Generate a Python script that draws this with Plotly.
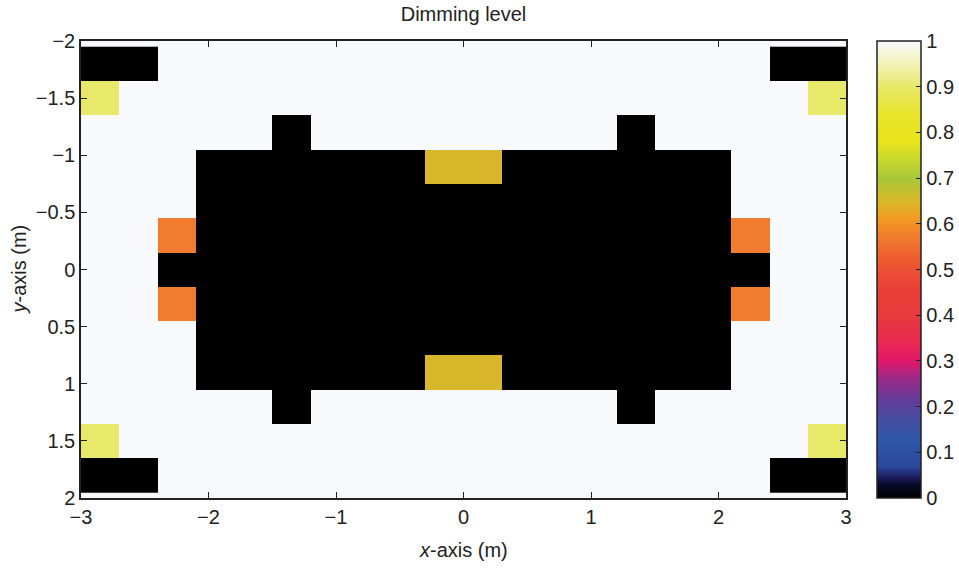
import plotly.graph_objects as go

# ---- data ----
x_centers = [-2.85, -2.55, -2.25, -1.95, -1.65, -1.35, -1.05, -0.75, -0.45, -0.15,
             0.15, 0.45, 0.75, 1.05, 1.35, 1.65, 1.95, 2.25, 2.55, 2.85]
y_centers = [-1.8, -1.5, -1.2, -0.9, -0.6, -0.3, 0.0, 0.3, 0.6, 0.9, 1.2, 1.5, 1.8]

W = 1.0    # full level
O = 0.57   # orange
G = 0.65   # gold
P = 0.9    # pale yellow

row_corner_black = [0, 0, W, W, W, W, W, W, W, W, W, W, W, W, W, W, W, W, 0, 0]
row_corner_pale  = [P, W, W, W, W, W, W, W, W, W, W, W, W, W, W, W, W, W, W, P]
row_bumps        = [W, W, W, W, W, 0, W, W, W, W, W, W, W, W, 0, W, W, W, W, W]
row_gold         = [W, W, W, 0, 0, 0, 0, 0, 0, G, G, 0, 0, 0, 0, 0, 0, W, W, W]
row_block        = [W, W, W, 0, 0, 0, 0, 0, 0, 0, 0, 0, 0, 0, 0, 0, 0, W, W, W]
row_orange       = [W, W, O, 0, 0, 0, 0, 0, 0, 0, 0, 0, 0, 0, 0, 0, 0, O, W, W]
row_center       = [W, W, 0, 0, 0, 0, 0, 0, 0, 0, 0, 0, 0, 0, 0, 0, 0, 0, W, W]

dimming = [row_corner_black, row_corner_pale, row_bumps, row_gold, row_block,
           row_orange, row_center, row_orange, row_block, row_gold, row_bumps,
           row_corner_pale, row_corner_black]

x_ticks = [-3, -2, -1, 0, 1, 2, 3]
x_tick_text = ["\u22123", "\u22122", "\u22121", "0", "1", "2", "3"]
y_ticks = [-2, -1.5, -1, -0.5, 0, 0.5, 1, 1.5, 2]
y_tick_text = ["\u22122", "\u22121.5", "\u22121", "\u22120.5", "0", "0.5", "1", "1.5", "2"]
cb_ticks = [0, 0.1, 0.2, 0.3, 0.4, 0.5, 0.6, 0.7, 0.8, 0.9, 1]
cb_tick_text = ["0", "0.1", "0.2", "0.3", "0.4", "0.5", "0.6", "0.7", "0.8", "0.9", "1"]

colorscale = [
    [0.0, "#000000"], [0.03, "#0a0a2a"], [0.045, "#1c1c60"], [0.07, "#2a4a9c"],
    [0.13, "#3058a8"], [0.18, "#4a4aa0"], [0.22, "#6a3898"], [0.26, "#9a2a88"],
    [0.30, "#e0186a"], [0.34, "#e82852"], [0.40, "#e83a3c"], [0.46, "#ea4038"],
    [0.52, "#ee5a30"], [0.57, "#f07c30"], [0.61, "#f39a22"], [0.65, "#d8b82a"],
    [0.70, "#a8c83a"], [0.74, "#c8d830"], [0.78, "#e8e41a"], [0.84, "#e8e42c"],
    [0.90, "#e8e86a"], [0.95, "#f2f2b8"], [1.0, "#f8f9fd"],
]

FONT = "Liberation Sans, Arial, Helvetica, sans-serif"
FS = 20
L, R, T, B = 81, 113, 41, 71
FIG_W, FIG_H = 959, 569
plot_w = FIG_W - L - R
plot_h = FIG_H - T - B
cb_x = (877 - L) / plot_w

fig = go.Figure()
fig.add_trace(go.Heatmap(
    x=x_centers, y=y_centers, z=dimming,
    zmin=0, zmax=1, colorscale=colorscale,
    colorbar=dict(
        x=cb_x, xanchor="left", y=0.5, yanchor="middle", len=1, lenmode="fraction",
        thickness=44, xpad=0, ypad=0,
        outlinewidth=1.5, outlinecolor="#222",
        ticks="inside", ticklen=5, tickwidth=1.2, tickcolor="#222",
        tickvals=cb_ticks, ticktext=cb_tick_text,
        tickfont=dict(family=FONT, size=FS, color="#222"),
    ),
    hoverinfo="skip",
))

# left-side inner ticks of the colorbar
tick_len_paper = 5 / plot_w
for v in cb_ticks[1:-1]:
    fig.add_shape(type="line", xref="paper", yref="paper",
                  x0=cb_x, x1=cb_x + tick_len_paper, y0=v, y1=v,
                  line=dict(color="#222", width=1.2))

# axis titles as annotations (fixed positions in pixels)
fig.add_annotation(text="<i>x</i>-axis (m)", xref="paper", yref="paper",
                   x=0.5, y=-(550 - (T + plot_h)) / plot_h, xanchor="center", yanchor="middle",
                   showarrow=False, font=dict(family=FONT, size=FS, color="#222"))
fig.add_annotation(text="<i>y</i>-axis (m)", xref="paper", yref="paper",
                   x=-(L - 18) / plot_w, y=0.5, xanchor="center", yanchor="middle",
                   textangle=-90, showarrow=False, font=dict(family=FONT, size=FS, color="#222"))

fig.update_layout(
    width=FIG_W, height=FIG_H,
    margin=dict(l=L, r=R, t=T, b=B, autoexpand=False),
    paper_bgcolor="white", plot_bgcolor="#f8f9fd",
    font=dict(family=FONT, size=FS, color="#222"),
    title=dict(text="Dimming level", x=(L + plot_w / 2) / FIG_W, xanchor="center",
               y=1 - 14 / FIG_H, yanchor="middle", yref="container",
               font=dict(family=FONT, size=FS, color="#222")),
)
fig.update_xaxes(
    range=[-3, 3], tickvals=x_ticks, ticktext=x_tick_text,
    ticks="inside", ticklen=6, tickwidth=1.2, tickcolor="#222",
    showline=True, linecolor="#222", linewidth=1.5, mirror="allticks",
    showgrid=False, zeroline=False, automargin=False,
    tickfont=dict(family=FONT, size=FS, color="#222"),
)
fig.update_yaxes(
    range=[2, -2], tickvals=y_ticks, ticktext=y_tick_text,
    ticks="inside", ticklen=6, tickwidth=1.2, tickcolor="#222",
    showline=True, linecolor="#222", linewidth=1.5, mirror="allticks",
    showgrid=False, zeroline=False, automargin=False,
    tickfont=dict(family=FONT, size=FS, color="#222"),
)

fig.write_html("out.html",
               config={"displayModeBar": False},
               post_script="document.body.style.margin='0';document.body.style.overflow='hidden';")
